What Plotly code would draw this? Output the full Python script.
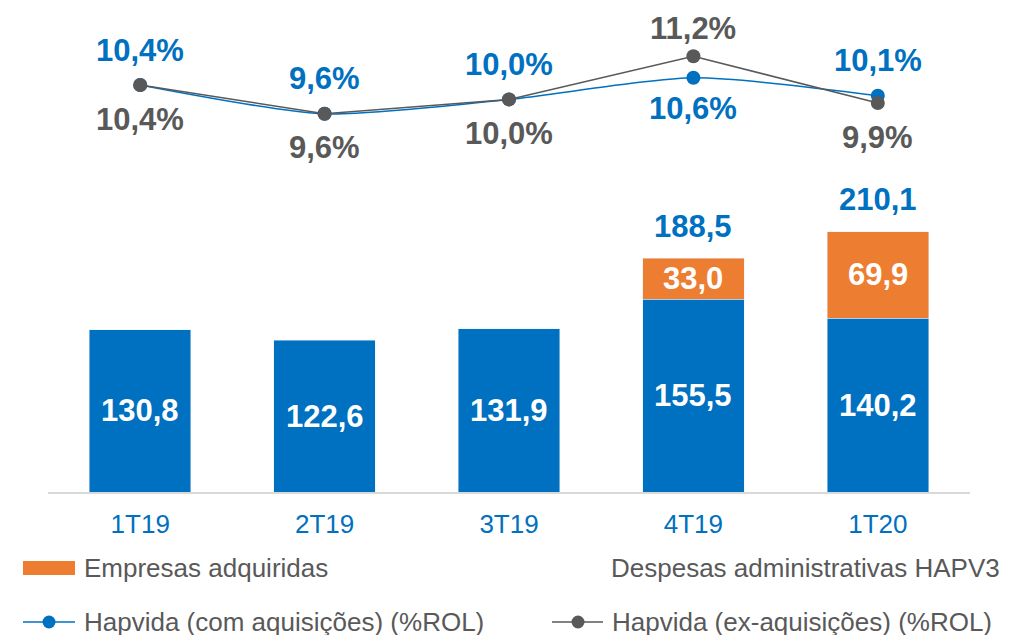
import plotly.graph_objects as go

categories = ["1T19", "2T19", "3T19", "4T19", "1T20"]
hapv3 = [130.8, 122.6, 131.9, 155.5, 140.2]
adquiridas = [None, None, None, 33.0, 69.9]
totals = [None, None, None, 188.5, 210.1]
pct_com = [10.4, 9.6, 10.0, 10.6, 10.1]
pct_ex = [10.4, 9.6, 10.0, 11.2, 9.9]

BLUE = "#0070C0"
ORANGE = "#ED7D31"
GRAY = "#595959"
FONT = "Liberation Sans, Arial, sans-serif"


def br(v, dec=1):
    return f"{v:.{dec}f}".replace(".", ",")


fig = go.Figure()
fig.add_trace(go.Bar(x=categories, y=hapv3, marker_color=BLUE, name="Despesas administrativas HAPV3",
                     showlegend=False))
fig.add_trace(go.Bar(x=categories, y=adquiridas, marker_color=ORANGE, name="Empresas adquiridas",
                     showlegend=False))
fig.add_trace(go.Scatter(x=categories, y=pct_com, yaxis="y2", mode="lines+markers",
                         line=dict(color=BLUE, width=1.5, shape="spline", smoothing=0.7),
                         marker=dict(size=14, color=BLUE), showlegend=False))
fig.add_trace(go.Scatter(x=categories, y=pct_ex, yaxis="y2", mode="lines+markers",
                         line=dict(color=GRAY, width=1.5),
                         marker=dict(size=14, color=GRAY), showlegend=False))

ann = []
bold = dict(family=FONT, size=31)
# bar inside labels
for c, v in zip(categories, hapv3):
    ann.append(dict(x=c, y=v / 2, text=f"<b>{br(v)}</b>", showarrow=False,
                    font=dict(bold, color="white"), xref="x", yref="y"))
for c, b, v in zip(categories, hapv3, adquiridas):
    if v is not None:
        ann.append(dict(x=c, y=b + v / 2, text=f"<b>{br(v)}</b>", showarrow=False,
                        font=dict(bold, color="white"), xref="x", yref="y"))
for c, t in zip(categories, totals):
    if t is not None:
        ann.append(dict(x=c, y=t, yshift=32, text=f"<b>{br(t)}</b>", showarrow=False,
                        font=dict(bold, color=BLUE), xref="x", yref="y"))
# percent labels
for c, a, e in zip(categories, pct_com, pct_ex):
    blue_above = a >= e
    ann.append(dict(x=c, y=a, yshift=35 if blue_above else -31, text=f"<b>{br(a)}%</b>",
                    showarrow=False, font=dict(bold, color=BLUE), xref="x", yref="y2"))
    ann.append(dict(x=c, y=e, yshift=-34 if blue_above else 28, text=f"<b>{br(e)}%</b>",
                    showarrow=False, font=dict(bold, color=GRAY), xref="x", yref="y2"))

# manual legend (window pixel coords -> paper coords; page body has 8px offset)
OFF = 8
L, W, H = 40, 922, 484


def px(x):
    return (x - OFF - L) / W


def py(y):
    return (H - (y - OFF)) / H


leg_font = dict(family=FONT, size=26, color=GRAY)
leg_common = dict(xref="paper", yref="paper", xanchor="left", yanchor="middle", showarrow=False,
                  font=leg_font)
ann += [
    dict(leg_common, x=px(82), y=py(568), text="Empresas adquiridas"),
    dict(leg_common, x=px(609), y=py(568), text="Despesas administrativas HAPV3"),
    dict(leg_common, x=px(82), y=py(622), text="Hapvida (com aquisições) (%ROL)"),
    dict(leg_common, x=px(610), y=py(622), text="Hapvida (ex-aquisições) (%ROL)"),
]
shapes = [
    dict(type="rect", xref="paper", yref="paper", x0=px(23), x1=px(75), y0=py(575), y1=py(561),
         fillcolor=ORANGE, line=dict(width=0)),
    dict(type="line", xref="paper", yref="paper", x0=px(23), x1=px(75), y0=py(622), y1=py(622),
         line=dict(color=BLUE, width=1.5)),
    dict(type="circle", xref="paper", yref="paper", x0=px(42.5), x1=px(55.5), y0=py(628.5), y1=py(615.5),
         fillcolor=BLUE, line=dict(width=0)),
    dict(type="line", xref="paper", yref="paper", x0=px(552), x1=px(603), y0=py(622), y1=py(622),
         line=dict(color=GRAY, width=1.5)),
    dict(type="circle", xref="paper", yref="paper", x0=px(571.5), x1=px(584.5), y0=py(628.5), y1=py(615.5),
         fillcolor=GRAY, line=dict(width=0)),
]

fig.update_layout(
    width=1013, height=635,
    margin=dict(l=40, r=51, t=0, b=151),
    paper_bgcolor="white", plot_bgcolor="white",
    barmode="stack", bargap=0.45,
    showlegend=False,
    xaxis=dict(showline=True, linecolor="#D9D9D9", linewidth=2, showgrid=False, ticks="",
               tickfont=dict(family=FONT, size=26, color=BLUE), ticklabelstandoff=8),
    yaxis=dict(range=[0, 390.6], visible=False, showgrid=False),
    yaxis2=dict(range=[-0.906, 12.539], overlaying="y", visible=False, showgrid=False),
    annotations=ann, shapes=shapes,
)

fig.write_html("out.html")
